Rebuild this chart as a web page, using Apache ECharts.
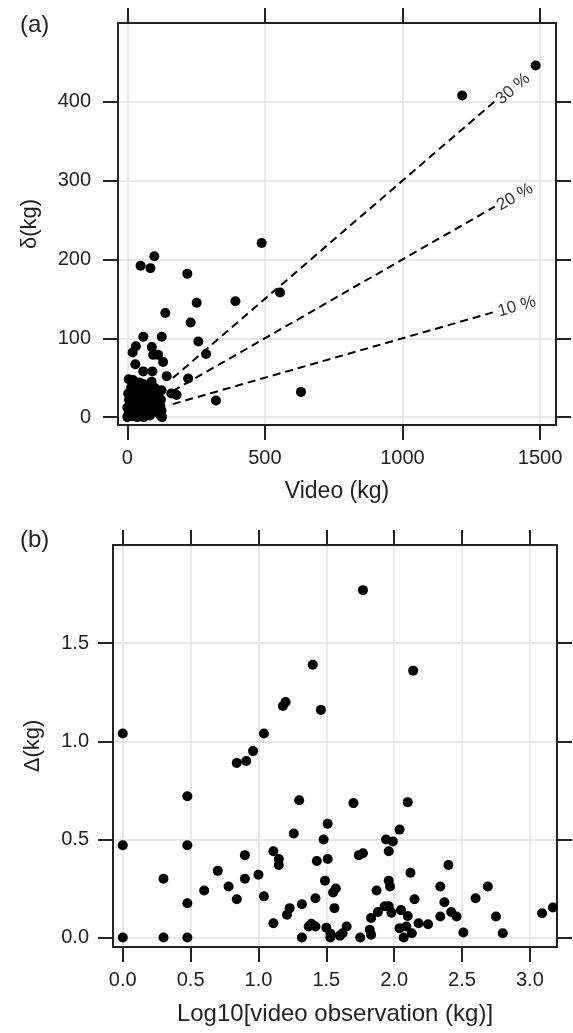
<!DOCTYPE html>
<html>
<head>
<meta charset="utf-8">
<script src="https://cdn.jsdelivr.net/npm/echarts@6/dist/echarts.min.js"></script>
<style>
html,body{margin:0;padding:0;background:#fff;}
#chart{width:573px;height:1033px;}
</style>
</head>
<body>
<div id="chart"></div>
<script>
// panel (a): video estimate vs. delta (kg)
var videoDelta = [
  [1484,446],[1217,408],[488,221],[555,158],[631,32],[322,21],[393,147],[252,145],
  [218,182],[230,120],[258,96],[286,80],[221,49],[138,132],[98,204],[48,192],
  [84,189],[58,102],[125,102],[31,90],[19,82],[89,89],[94,79],[112,79],
  [130,70],[29,67],[58,58],[91,58],[143,52],[5,48],[21,47],[88,45],
  [58,42],[179,28],[160,30],[124,34],[100,37],[112,30],
  [2,2],[5,8],[8,15],[10,4],[12,25],[15,10],[18,1],[20,18],[22,30],[25,6],
  [28,12],[30,22],[32,2],[35,35],[38,14],[40,8],[42,27],[45,3],[48,18],[50,10],
  [52,33],[55,5],[58,22],[60,13],[62,1],[65,28],[68,8],[70,17],[72,38],[75,4],
  [78,24],[80,12],[82,2],[85,30],[88,16],[90,7],[95,22],[100,10],[118,3],[120,14],
  [122,22],[124,8],[126,0],[3,30],[6,22],[14,38],[26,40],[44,44],[36,0],[60,0],
  [0,12],[0,0]
];
var videoTicks = [0, 500, 1000, 1500];
var deltaTicks = [0, 100, 200, 300, 400];

// reference lines (percent of video weight), end points
var refNames = ['10 %', '20 %', '30 %'];
var refLines = [
  [[165, 16.5], [1335, 133.5]],
  [[165, 33], [1335, 267]],
  [[165, 49.5], [1335, 400.5]]
];
var refAngles = [16, 30, 40];

// panel (b): log10 video vs. absolute difference
var logDelta = [
  [0,1.04],[0.84,0.89],[0.91,0.90],[0.96,0.95],[1.04,1.04],[1.18,1.18],[1.20,1.20],
  [1.77,1.77],[1.40,1.39],[2.14,1.36],[1.46,1.16],
  [0.476,0.72],[1.30,0.70],[0,0.47],[0.476,0.47],[1.51,0.58],[1.26,0.53],[1.48,0.50],
  [0.90,0.42],[1.11,0.44],[1.15,0.40],[1.15,0.37],[1.43,0.39],[1.51,0.40],[0.30,0.30],
  [0.70,0.34],[0.90,0.30],[1.0,0.32],[1.49,0.29],[0.60,0.24],[0.78,0.26],[1.57,0.25],
  [1.55,0.23],[0.476,0.175],[0.84,0.195],[1.04,0.21],[1.42,0.20],[1.32,0.17],[1.23,0.15],
  [1.21,0.116],[1.56,0.15],[1.11,0.073],[1.39,0.07],[1.42,0.056],[1.37,0.056],[1.50,0.05],
  [1.53,0.02],[1.53,0.0],[0,0],[0.30,0],[0.476,0],[1.32,0],[1.60,0.01],
  [1.70,0.685],[2.10,0.69],[2.04,0.55],[1.94,0.50],[1.99,0.49],[1.96,0.44],[1.74,0.42],
  [1.77,0.43],[2.40,0.37],[2.12,0.33],[1.96,0.29],[1.97,0.26],[2.34,0.26],[2.69,0.26],
  [1.87,0.24],[2.15,0.195],[2.60,0.20],[2.37,0.18],[1.93,0.16],[1.96,0.16],[1.88,0.13],
  [1.83,0.10],[1.98,0.127],[2.05,0.14],[2.10,0.11],[2.34,0.107],[2.42,0.13],[2.46,0.107],
  [2.75,0.107],[3.09,0.124],[3.17,0.153],[2.18,0.073],[2.25,0.068],[2.04,0.048],[2.09,0.056],
  [2.13,0.022],[2.07,0.0],[1.65,0.056],[1.62,0.022],[1.82,0.04],[1.83,0.014],[1.75,0.0],
  [2.51,0.026],[2.80,0.022]
];
var logTicks = [0, 0.5, 1.0, 1.5, 2.0, 2.5, 3.0];
var bigDeltaTicks = [0, 0.5, 1.0, 1.5];

var FONT = '"Liberation Sans", Arial, sans-serif';
var INK = '#222';

// one boxed axis: main side has labels + grid lines, opposite side only ticks
function axis(grid, pos, min, max, ticks, opts) {
  opts = opts || {};
  var main = pos === 'bottom' || pos === 'left';
  var a = {
    type: 'value',
    gridIndex: grid,
    position: pos,
    min: min,
    max: max,
    axisLine: {show: true, onZero: false, lineStyle: {color: INK, width: 2}},
    axisTick: {show: true, inside: false, length: 15, customValues: ticks,
               lineStyle: {color: INK, width: 2}},
    splitLine: {show: main, lineStyle: {color: '#e2e2e2', width: 1.5}},
    axisLabel: {show: main, customValues: ticks, margin: opts.margin || 22,
                color: INK, fontSize: 20, fontFamily: FONT,
                formatter: opts.fmt || function (v) { return String(v); }}
  };
  if (main && opts.name) {
    a.name = opts.name;
    a.nameLocation = 'middle';
    a.nameGap = opts.nameGap;
    a.nameTextStyle = {color: INK, fontSize: opts.nameSize || 22, fontFamily: FONT};
  }
  return a;
}

var fmt1 = function (v) { return v.toFixed(1); };

var series = [
  {
    type: 'scatter', xAxisIndex: 0, yAxisIndex: 0,
    symbolSize: 10, itemStyle: {color: '#000', opacity: 1},
    data: videoDelta
  },
  {
    type: 'scatter', xAxisIndex: 2, yAxisIndex: 2,
    symbolSize: 10, itemStyle: {color: '#000', opacity: 1},
    data: logDelta
  }
];

refLines.forEach(function (seg, i) {
  series.push({
    type: 'line', xAxisIndex: 0, yAxisIndex: 0,
    symbol: 'circle', symbolSize: 1, showSymbol: true,
    itemStyle: {color: 'rgba(0,0,0,0)'},
    lineStyle: {color: '#000', width: 2, type: [8, 5]},
    silent: true,
    data: [
      seg[0],
      {value: seg[1], label: {
        show: true, position: 'right', distance: 3, rotate: refAngles[i],
        formatter: refNames[i], color: '#333', fontSize: 17, fontFamily: FONT
      }}
    ]
  });
});

var chart = echarts.init(document.getElementById('chart'));
chart.setOption({
  animation: false,
  backgroundColor: '#fff',
  title: [
    {text: '(a)', left: 15, top: 8, textStyle: {fontSize: 24, fontWeight: 'normal', color: INK, fontFamily: FONT}},
    {text: '(b)', left: 15, top: 523, textStyle: {fontSize: 24, fontWeight: 'normal', color: INK, fontFamily: FONT}}
  ],
  grid: [
    {left: 118, top: 23, width: 438, height: 402},
    {left: 113, top: 545, width: 444, height: 402}
  ],
  xAxis: [
    axis(0, 'bottom', -34, 1558, videoTicks, {name: 'Video (kg)', nameGap: 55, nameSize: 23, margin: 23}),
    axis(0, 'top', -34, 1558, videoTicks),
    axis(1, 'bottom', -0.072, 3.2, logTicks, {name: 'Log10[video observation (kg)]', nameGap: 55, nameSize: 24, margin: 23, fmt: fmt1}),
    axis(1, 'top', -0.072, 3.2, logTicks)
  ],
  yAxis: [
    axis(0, 'left', -10, 500, deltaTicks, {name: 'δ(kg)', nameGap: 77, margin: 27}),
    axis(0, 'right', -10, 500, deltaTicks),
    axis(1, 'left', -0.048, 2.0, bigDeltaTicks, {name: 'Δ(kg)', nameGap: 69, margin: 24, fmt: fmt1}),
    axis(1, 'right', -0.048, 2.0, bigDeltaTicks)
  ],
  series: series
});
</script>
</body>
</html>
